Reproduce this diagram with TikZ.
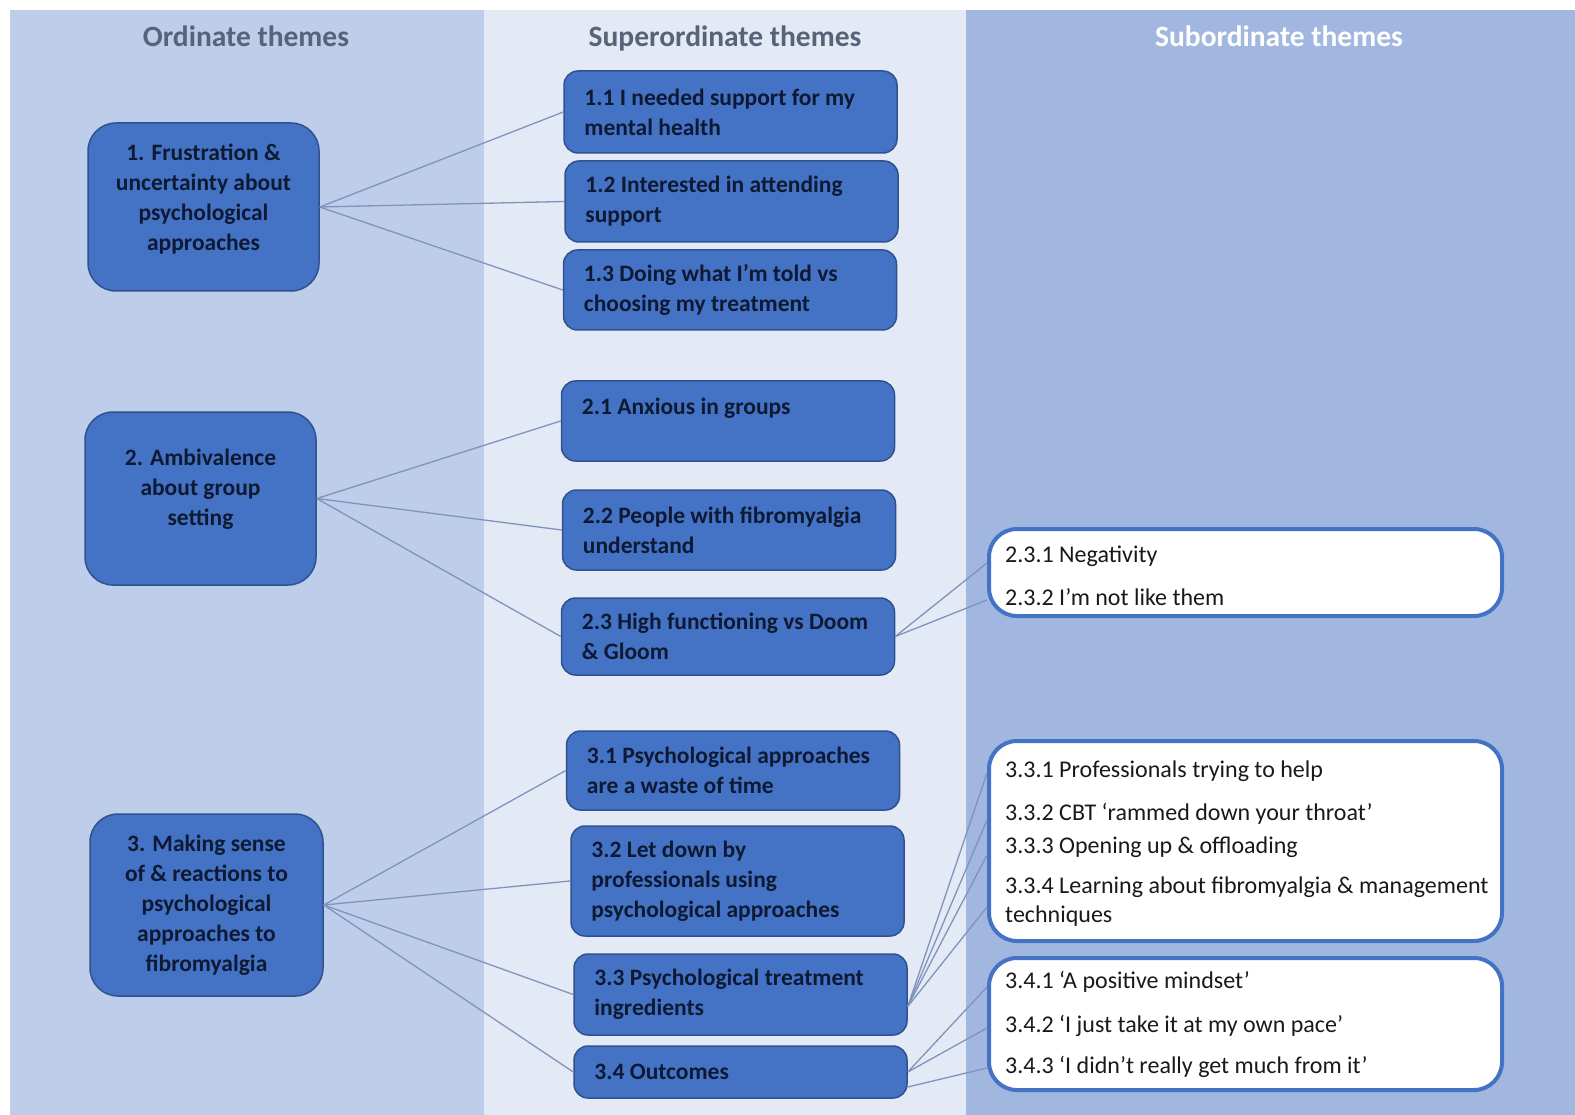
\documentclass[tikz,border=0pt]{standalone}
\usepackage{fontspec}
\setmainfont{Carlito}
\definecolor{colL}{HTML}{BDCDEA}
\definecolor{colM}{HTML}{E4EAF5}
\definecolor{colR}{HTML}{A1B7E0}
\definecolor{boxfill}{HTML}{4472C4}
\definecolor{boxedge}{HTML}{2F528F}
\definecolor{txtdark}{HTML}{0E1A33}
\definecolor{hdrgray}{HTML}{58637A}
\definecolor{linkc}{HTML}{7F93BC}
\definecolor{rboxedge}{HTML}{4472C4}
\tikzset{
  lbox/.style={draw=boxedge, fill=boxfill, line width=1.5pt, rounded corners=28pt, inner sep=0pt},
  mbox/.style={draw=boxedge, fill=boxfill, line width=1.5pt, rounded corners=14pt, minimum width=333pt, inner sep=0pt},
  rbox/.style={draw=rboxedge, fill=white, line width=4pt, rounded corners=28pt, minimum width=513pt, inner sep=0pt},
  ltxt/.style={align=center, text=txtdark, font=\fontsize{23.5}{30}\selectfont\bfseries, inner sep=0pt},
  mtxt/.style={align=left, text=txtdark, font=\fontsize{23.5}{30}\selectfont\bfseries, inner sep=0pt, anchor=west},
  rtxt/.style={anchor=base west, text=black!90, font=\fontsize{24}{29}\selectfont, inner sep=0pt},
  hdr/.style={anchor=base, font=\fontsize{29.5}{34}\selectfont\bfseries, inner sep=0pt},
  link/.style={draw=linkc, line width=1.3pt},
}
\begin{document}
\begin{tikzpicture}[x=1pt,y=-1pt]
\useasboundingbox (0,0) rectangle (1575,1115);
\fill[white] (0,0) rectangle (1575,1115);
\fill[colL] (10,10) rectangle (484,1115);
\fill[colM] (484,10) rectangle (966,1115);
\fill[colR] (966,10) rectangle (1575,1115);

% headers
\node[hdr, text=hdrgray] (h1) at (246,47) {Ordinate themes};
\node[hdr, text=hdrgray] (h2) at (725,47) {Superordinate themes};
\node[hdr, text=white] (h3) at (1279,47) {Subordinate themes};

% ordinate themes
\node[lbox, minimum width=231pt, minimum height=168pt] (o1) at (203.5,207) {};
\node[ltxt] (o1t) at ([yshift=8pt]o1.center) {1. Frustration \&\\uncertainty about\\psychological\\approaches};
\node[lbox, minimum width=231pt, minimum height=173pt] (o2) at (200.5,498.5) {};
\node[ltxt] (o2t) at ([yshift=9.5pt]o2.center) {2. Ambivalence\\about group\\setting};
\node[lbox, minimum width=233pt, minimum height=182pt] (o3) at (206.5,905) {};
\node[ltxt] (o3t) at (o3.center) {3. Making sense\\of \& reactions to\\psychological\\approaches to\\fibromyalgia};

% superordinate themes
\node[mbox, minimum height=82pt] (m11) at (730.5,112) {};
\node[mtxt] (m11t) at ([xshift=21pt]m11.west) {1.1 I needed support for my\\mental health};
\node[mbox, minimum height=81pt] (m12) at (731.5,201.5) {};
\node[mtxt] (m12t) at ([xshift=21pt]m12.west) {1.2 Interested in attending\\support};
\node[mbox, minimum height=80pt] (m13) at (730,290) {};
\node[mtxt] (m13t) at ([xshift=21pt]m13.west) {1.3 Doing what I’m told vs\\choosing my treatment};

\node[mbox, minimum height=80pt] (m21) at (728,421) {};
\node[mtxt] (m21t) at ([xshift=21pt,yshift=13pt]m21.west) {2.1 Anxious in groups};
\node[mbox, minimum height=80pt] (m22) at (729,530) {};
\node[mtxt] (m22t) at ([xshift=21pt]m22.west) {2.2 People with fibromyalgia\\understand};
\node[mbox, minimum height=77pt] (m23) at (728,636.5) {};
\node[mtxt] (m23t) at ([xshift=21pt]m23.west) {2.3 High functioning vs Doom\\\& Gloom};

\node[mbox, minimum height=79pt] (m31) at (733,770.5) {};
\node[mtxt] (m31t) at ([xshift=21pt]m31.west) {3.1 Psychological approaches\\are a waste of time};
\node[mbox, minimum height=110pt] (m32) at (737.5,881) {};
\node[mtxt] (m32t) at ([xshift=21pt]m32.west) {3.2 Let down by\\professionals using\\psychological approaches};
\node[mbox, minimum height=81pt] (m33) at (740.5,994.5) {};
\node[mtxt] (m33t) at ([xshift=21pt]m33.west) {3.3 Psychological treatment\\ingredients};
\node[mbox, minimum height=52pt] (m34) at (740.5,1072) {};
\node[mtxt] (m34t) at ([xshift=21pt]m34.west) {3.4 Outcomes};

% subordinate themes
\node[rbox, minimum height=87pt] (ra) at (1245.5,572.5) {};
\node[rtxt] (r231) at (1005,562) {2.3.1 Negativity};
\node[rtxt] (r232) at (1005,605) {2.3.2 I’m not like them};
\node[rbox, minimum height=200pt] (rb) at (1245.5,841) {};
\node[rtxt] (r331) at (1005,777) {3.3.1 Professionals trying to help};
\node[rtxt] (r332) at (1005,820) {3.3.2 CBT ‘rammed down your throat’};
\node[rtxt] (r333) at (1005,853) {3.3.3 Opening up \& offloading};
\node[rtxt, align=left] (r334) at (1005,922) {3.3.4 Learning about fibromyalgia \& management\\techniques};
\node[rbox, minimum height=132pt] (rc) at (1245.5,1024) {};
\node[rtxt] (r341) at (1005,988) {3.4.1 ‘A positive mindset’};
\node[rtxt] (r342) at (1005,1032) {3.4.2 ‘I just take it at my own pace’};
\node[rtxt] (r343) at (1005,1073) {3.4.3 ‘I didn’t really get much from it’};

% attachment points
\coordinate (ra1) at (ra.west |- 0,563);
\coordinate (ra2) at (ra.west |- 0,600);
\coordinate (rb1) at (rb.west |- 0,773);
\coordinate (rb2) at (rb.west |- 0,820);
\coordinate (rb3) at (rb.west |- 0,855);
\coordinate (rb4) at (rb.west |- 0,907);
\coordinate (rc1) at (rc.west |- 0,987);
\coordinate (rc2) at (rc.west |- 0,1028);
\coordinate (rc3) at (rc.west |- 0,1068);
\coordinate (s33) at ([yshift=-12pt]m33.east);
\coordinate (s34) at ([yshift=-15pt]m34.east);

% connectors
\draw[link] (o1.east) -- (m11.west);
\draw[link] (o1.east) -- (m12.west);
\draw[link] (o1.east) -- (m13.west);
\draw[link] (o2.east) -- (m21.west);
\draw[link] (o2.east) -- (m22.west);
\draw[link] (o2.east) -- (m23.west);
\draw[link] (o3.east) -- (m31.west);
\draw[link] (o3.east) -- (m32.west);
\draw[link] (o3.east) -- (m33.west);
\draw[link] (o3.east) -- (m34.west);
\draw[link] (m23.east) -- (ra1);
\draw[link] (m23.east) -- (ra2);
\draw[link] (s33) -- (rb1);
\draw[link] (s33) -- (rb2);
\draw[link] (s33) -- (rb3);
\draw[link] (s33) -- (rb4);
\draw[link] (m34.east) -- (rc1);
\draw[link] (m34.east) -- (rc2);
\draw[link] (s34) -- (rc3);
\end{tikzpicture}
\end{document}
